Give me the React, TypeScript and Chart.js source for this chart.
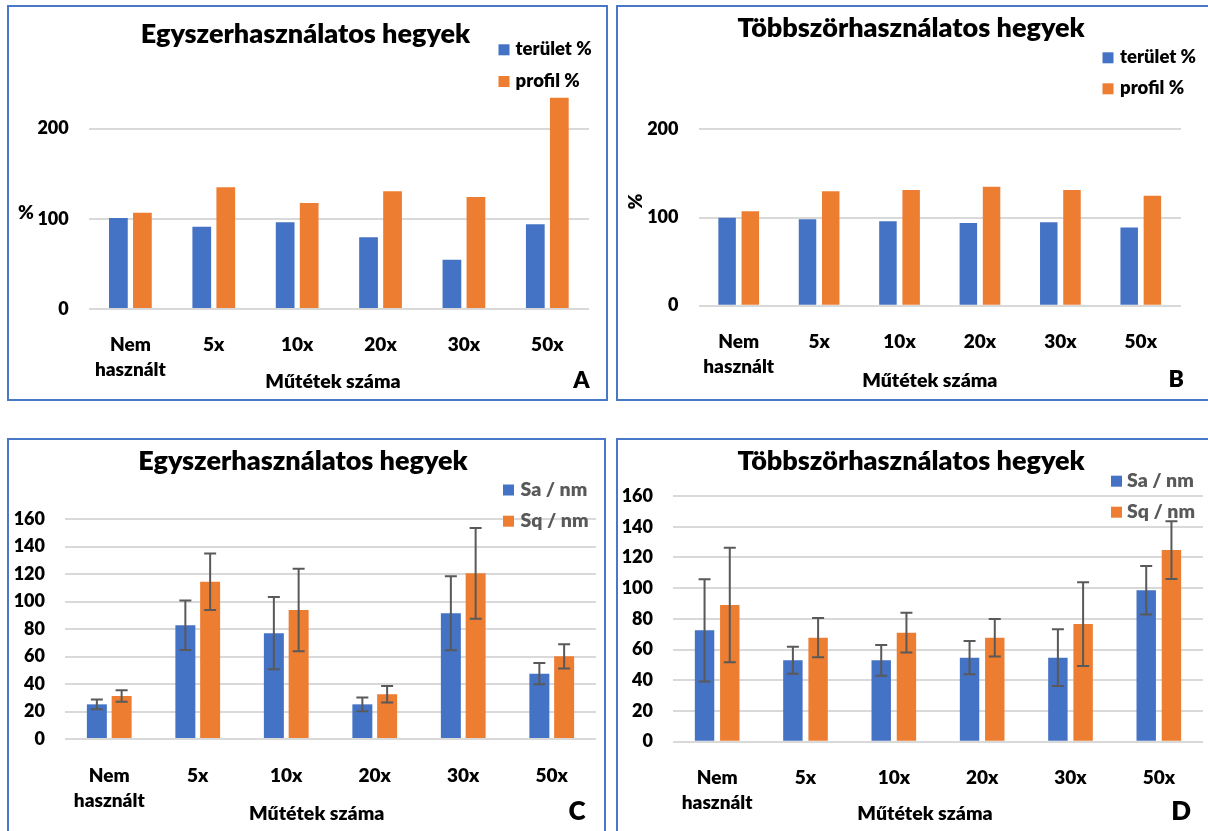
import React, { useEffect, useRef } from 'react';
import { Chart, registerables } from 'chart.js';

Chart.register(...registerables);

// ---------- data ----------
const categories: (string | string[])[] = [['Nem', 'használt'], '5x', '10x', '20x', '30x', '50x'];

const aTerulet = [100.9, 91.3, 96.1, 79.5, 54.7, 93.9];
const aProfil = [106.8, 134.9, 117.6, 130.5, 124.2, 234.4];

const bTerulet = [99.8, 97.9, 95.7, 93.8, 94.5, 88.8];
const bProfil = [107, 129.7, 131.2, 135, 131.2, 124.8];

const cSa = [25.2, 82.7, 77, 25.2, 91.4, 47.5];
const cSaErr = [3.6, 18, 26.2, 5, 26.9, 7.7];
const cSq = [31.3, 114.4, 93.8, 32.5, 120.5, 60.1];
const cSqErr = [4.2, 20.6, 30, 6, 33, 8.8];

const dSa = [72.5, 53, 53, 54.7, 54.7, 98.6];
const dSaErr = [33.3, 8.8, 10, 10.8, 18.5, 15.8];
const dSq = [89, 67.7, 71, 67.7, 76.6, 124.8];
const dSqErr = [37.3, 12.8, 13, 12.2, 27.3, 18.8];

const pctTicks = [0, 100, 200];
const nmTicks = [0, 20, 40, 60, 80, 100, 120, 140, 160];

const titleEgy = 'Egyszerhasználatos hegyek';
const titleTobb = 'Többszörhasználatos hegyek';
const xTitle = 'Műtétek száma';

// ---------- style ----------
const BLUE = '#4472C4';
const ORANGE = '#ED7D31';
const GRID = '#d9d9d9';
const ERR = '#595959';
const FONT = 'Lato, "Open Sans", sans-serif';
const WEIGHT = '800';
const BORDER = '#4a78c8';

type PanelCfg = {
  canvas: { x: number; y: number; w: number; h: number };
  area: { l: number; r: number; t: number; b: number };
  yMax: number;
  ticks: number[];
  xPad: number;
  cat: number;
  bar: number;
  series: { label: string; data: number[]; err?: number[]; color: string }[];
  title: { x: number; y: number };
  legend: { sqX: number; sqY: number[]; textX: number; baseY: number[]; size: number; color: string };
  axisTitle: { x: number; y: number };
  letter: { text: string; x: number; y: number; size: number };
  yTitle?: { x: number; y: number; rotate: boolean };
  titleText: string;
};

const panels: PanelCfg[] = [
  {
    canvas: { x: 9, y: 7, w: 597, h: 392 },
    area: { l: 88.7, r: 589, t: 83.6, b: 309 },
    yMax: 250,
    ticks: pctTicks,
    xPad: 15.5,
    cat: 0.576,
    bar: 0.78,
    series: [
      { label: 'terület %', data: aTerulet, color: BLUE },
      { label: 'profil %', data: aProfil, color: ORANGE },
    ],
    title: { x: 305.5, y: 43.3 },
    legend: { sqX: 498.5, sqY: [44.3, 76], textX: 515.6, baseY: [55, 87], size: 18.5, color: '#000' },
    axisTitle: { x: 333, y: 387.7 },
    letter: { text: 'A', x: 589.5, y: 388, size: 23 },
    yTitle: { x: 26, y: 219, rotate: false },
    titleText: titleEgy,
  },
  {
    canvas: { x: 618, y: 7, w: 590, h: 392 },
    area: { l: 698.5, r: 1181, t: 85.25, b: 305.67 },
    yMax: 250,
    ticks: pctTicks,
    xPad: 16,
    cat: 0.577,
    bar: 0.754,
    series: [
      { label: 'terület %', data: bTerulet, color: BLUE },
      { label: 'profil %', data: bProfil, color: ORANGE },
    ],
    title: { x: 911, y: 36.7 },
    legend: { sqX: 1102.5, sqY: [52.3, 83.3], textX: 1120, baseY: [63.3, 94.3], size: 18.5, color: '#000' },
    axisTitle: { x: 929.8, y: 387.3 },
    letter: { text: 'B', x: 1184, y: 387.3, size: 23 },
    yTitle: { x: 636, y: 201.5, rotate: true },
    titleText: titleTobb,
  },
  {
    canvas: { x: 9, y: 440, w: 595, h: 391 },
    area: { l: 65, r: 596, t: 519, b: 739 },
    yMax: 160,
    ticks: nmTicks,
    xPad: 16,
    cat: 0.56,
    bar: 0.806,
    series: [
      { label: 'Sa / nm', data: cSa, err: cSaErr, color: BLUE },
      { label: 'Sq / nm', data: cSq, err: cSqErr, color: ORANGE },
    ],
    title: { x: 303, y: 470 },
    legend: { sqX: 503, sqY: [484.5, 515.7], textX: 520.5, baseY: [496, 527], size: 19.5, color: '#595959' },
    axisTitle: { x: 316.7, y: 820 },
    letter: { text: 'C', x: 585.5, y: 820, size: 26 },
    titleText: titleEgy,
  },
  {
    canvas: { x: 618, y: 440, w: 590, h: 391 },
    area: { l: 673, r: 1203, t: 496, b: 741.67 },
    yMax: 160,
    ticks: nmTicks,
    xPad: 15.8,
    cat: 0.571,
    bar: 0.77,
    series: [
      { label: 'Sa / nm', data: dSa, err: dSaErr, color: BLUE },
      { label: 'Sq / nm', data: dSq, err: dSqErr, color: ORANGE },
    ],
    title: { x: 911, y: 470 },
    legend: { sqX: 1111, sqY: [475.7, 506.7], textX: 1127, baseY: [487, 518], size: 19.5, color: '#595959' },
    axisTitle: { x: 925, y: 820 },
    letter: { text: 'D', x: 1191, y: 820, size: 26 },
    titleText: titleTobb,
  },
];

const errorBarPlugin = {
  id: 'errorBars',
  afterDatasetsDraw(chart: any) {
    const ctx = chart.ctx;
    const y = chart.scales.y;
    ctx.save();
    ctx.strokeStyle = ERR;
    ctx.lineWidth = 2;
    chart.data.datasets.forEach((ds: any, di: number) => {
      const errs: number[] | undefined = ds.errorBars;
      if (!errs) return;
      const meta = chart.getDatasetMeta(di);
      meta.data.forEach((bar: any, i: number) => {
        const v = ds.data[i];
        const e = errs[i];
        const top = y.getPixelForValue(v + e);
        const bot = y.getPixelForValue(v - e);
        const x = bar.x;
        ctx.beginPath();
        ctx.moveTo(x, top);
        ctx.lineTo(x, bot);
        ctx.moveTo(x - 6, top);
        ctx.lineTo(x + 6, top);
        ctx.moveTo(x - 6, bot);
        ctx.lineTo(x + 6, bot);
        ctx.stroke();
      });
    });
    ctx.restore();
  },
};

function makeOverlay(p: PanelCfg) {
  return {
    id: 'overlayText',
    afterDraw(chart: any) {
      const ctx = chart.ctx;
      const ox = p.canvas.x;
      const oy = p.canvas.y;
      ctx.save();
      ctx.textBaseline = 'alphabetic';
      // title
      ctx.fillStyle = '#000';
      ctx.textAlign = 'center';
      ctx.font = `${WEIGHT} 27px ${FONT}`;
      ctx.fillText(p.titleText, p.title.x - ox, p.title.y - oy);
      // x axis title
      ctx.font = `${WEIGHT} 19.5px ${FONT}`;
      ctx.fillText(xTitle, p.axisTitle.x - ox, p.axisTitle.y - oy);
      // letter
      ctx.textAlign = 'right';
      ctx.font = `${WEIGHT} ${p.letter.size}px ${FONT}`;
      ctx.fillText(p.letter.text, p.letter.x - ox, p.letter.y - oy);
      // y title
      if (p.yTitle) {
        ctx.font = `${WEIGHT} 19px ${FONT}`;
        ctx.textAlign = 'center';
        if (p.yTitle.rotate) {
          ctx.save();
          ctx.translate(p.yTitle.x - ox, p.yTitle.y - oy);
          ctx.rotate(-Math.PI / 2);
          ctx.textBaseline = 'middle';
          ctx.fillText('%', 0, 0);
          ctx.restore();
        } else {
          ctx.fillText('%', p.yTitle.x - ox, p.yTitle.y - oy);
        }
      }
      // legend
      ctx.textAlign = 'left';
      ctx.font = `${WEIGHT} ${p.legend.size}px ${FONT}`;
      chart.data.datasets.forEach((ds: any, i: number) => {
        ctx.fillStyle = ds.backgroundColor;
        ctx.fillRect(p.legend.sqX - ox, p.legend.sqY[i] - oy, 11, 11);
        ctx.fillStyle = p.legend.color;
        ctx.fillText(ds.label, p.legend.textX - ox, p.legend.baseY[i] - oy);
      });
      ctx.restore();
    },
  };
}

function Panel({ p }: { p: PanelCfg }) {
  const ref = useRef<HTMLCanvasElement | null>(null);
  useEffect(() => {
    if (!ref.current) return;
    const { canvas, area } = p;
    const chart = new Chart(ref.current, {
      type: 'bar',
      data: {
        labels: categories as any,
        datasets: p.series.map((s) => ({
          label: s.label,
          data: s.data,
          backgroundColor: s.color,
          borderWidth: 0,
          categoryPercentage: p.cat,
          barPercentage: p.bar,
          errorBars: s.err,
        })) as any,
      },
      options: {
        animation: false,
        responsive: false,
        devicePixelRatio: 1,
        layout: {
          padding: {
            left: 0,
            top: area.t - canvas.y,
            right: canvas.x + canvas.w - area.r,
            bottom: 0,
          },
        },
        plugins: {
          legend: { display: false },
          title: { display: false },
          tooltip: { enabled: false },
        },
        scales: {
          x: {
            grid: { display: false },
            border: { display: false },
            ticks: {
              color: '#000',
              font: { family: FONT, size: 19, weight: WEIGHT, lineHeight: 25 / 19 },
              padding: p.xPad,
              maxRotation: 0,
              autoSkip: false,
            },
            afterFit: (s: any) => {
              s.height = canvas.y + canvas.h - area.b;
            },
          },
          y: {
            min: 0,
            max: p.yMax,
            grid: { color: GRID, lineWidth: 2, drawTicks: false },
            border: { display: false },
            ticks: {
              color: '#000',
              font: { family: FONT, size: 18, weight: WEIGHT },
              padding: 20,
            },
            afterBuildTicks: (s: any) => {
              s.ticks = p.ticks.map((v) => ({ value: v }));
            },
            afterFit: (s: any) => {
              s.width = area.l - canvas.x;
            },
          },
        },
      } as any,
      plugins: [errorBarPlugin, makeOverlay(p)],
    });
    return () => chart.destroy();
  }, [p]);
  return (
    <canvas
      ref={ref}
      width={p.canvas.w}
      height={p.canvas.h}
      style={{
        position: 'absolute',
        left: p.canvas.x,
        top: p.canvas.y,
        width: p.canvas.w,
        height: p.canvas.h,
      }}
    />
  );
}

const frames = [
  { left: 7, top: 5, width: 601, height: 396 },
  { left: 616, top: 5, width: 620, height: 396 },
  { left: 7, top: 438, width: 599, height: 420 },
  { left: 616, top: 438, width: 620, height: 420 },
];

export default function App() {
  return (
    <div
      style={{
        position: 'fixed',
        left: 0,
        top: 0,
        width: 1208,
        height: 831,
        overflow: 'hidden',
        background: '#fff',
      }}
    >
      {frames.map((f, i) => (
        <div
          key={i}
          style={{
            position: 'absolute',
            left: f.left,
            top: f.top,
            width: f.width,
            height: f.height,
            boxSizing: 'border-box',
            border: `2px solid ${BORDER}`,
          }}
        />
      ))}
      {panels.map((p, i) => (
        <Panel key={i} p={p} />
      ))}
    </div>
  );
}
